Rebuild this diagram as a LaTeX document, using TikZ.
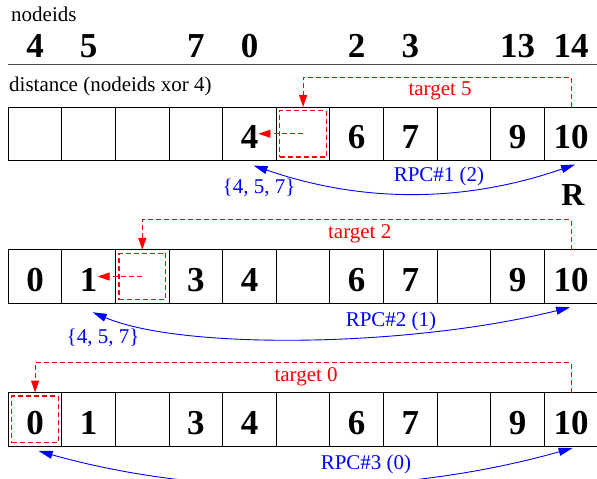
\documentclass[tikz,border=0pt]{standalone}
\usepackage{fontspec}
\setmainfont{Liberation Serif}
\usetikzlibrary{arrows.meta,calc}
\begin{document}
\begin{tikzpicture}[x=1pt,y=-1pt,
  cell/.style={draw=black, line width=1pt, minimum width=53.6pt, minimum height=53.5pt, inner sep=0pt, outer sep=0pt},
  digit/.style={font=\fontsize{35}{40}\selectfont\bfseries, inner sep=0pt, anchor=base},
  small/.style={font=\fontsize{21}{25}\selectfont, inner sep=0pt},
  tgt/.style={draw=red, color=red, dash pattern=on 5pt off 3pt, line width=1pt},
  tbox/.style={rectangle, draw=red, color=red, dash pattern=on 5pt off 3pt, line width=1.2pt, minimum width=46.5pt, minimum height=46.5pt, inner sep=0pt},
  tlabel/.style={small, text=red, anchor=base},
  rpc/.style={draw=blue, color=blue, line width=0.9pt, arrows={Triangle[length=14pt,width=8pt]-Triangle[length=14pt,width=8pt]}},
  rlabel/.style={small, text=blue},
  redtip/.style={arrows={-Triangle[length=12pt,width=8pt]}}
]
\useasboundingbox (0,0) rectangle (597,479);

% header
\node[small, anchor=base west] (nodeids) at (11,21) {nodeids};
\foreach \i/\v in {0/4,1/5,3/7,4/0,6/2,7/3,9/13,10/14}
  \node[digit] (top\i) at ({35.1+53.6*\i},57) {\v};
\draw[black!70, line width=1pt] (8.3,64.3) -- (600,64.3);
\node[small, anchor=base west] (dist) at (9,91) {distance (nodeids xor 4)};

% cells
\foreach \r/\top in {1/107, 2/249.8, 3/392.5} {
  \foreach \i in {0,...,10} {
    \node[cell] (r\r-\i) at ({35.1+53.6*\i},{\top+26.75}) {};
  }
}
% digits
\foreach \r/\list in {1/{4,6,7,9,10},2/{0,1,3,4,6,7,9,10},3/{0,1,3,4,6,7,9,10}} {
  \foreach \i in \list {
    \node[digit] (d\r-\i) at ([yshift=12pt]r\r-\i.south) {\i};
  }
}

% target boxes
\node[tbox] (b1) at (r1-5) {};
\node[tbox] (b2) at (r2-2) {};
\node[tbox] (b3) at (r3-0) {};

% target paths
\draw[tgt, redtip] (r1-10.north) -- ++(0,-30) -| (r1-5.north);
\draw[tgt, redtip] (r2-10.north) -- ++(0,-30) -| (r2-2.north);
\draw[tgt, redtip] (r3-10.north) -- ++(0,-30) -| (r3-0.north);
\node[tlabel] (t1) at ($(r1-5.north)!0.5!(r1-10.north)+(3,-12)$) {target 5};
\node[tlabel] (t2) at ($(r2-2.north)!0.5!(r2-10.north)+(3,-11)$) {target 2};
\node[tlabel] (t3) at ($(r3-0.north)!0.5!(r3-10.north)+(3,-11)$) {target 0};

% in-row arrows
\draw[tgt, redtip] (b1.center) -- (b1.center -| d1-4.east);
\draw[tgt, redtip] (b2.center) -- (b2.center -| d2-1.east);

% RPC arcs
\draw[rpc] ($(r1-10.south)+(4,4)$) .. controls +(-110,38) and +(110,38) .. ($(r1-4.south)+(4,5)$);
\draw[rpc] ($(r2-10.south)+(-1,4)$) .. controls +(-160,40) and +(90,38) .. ($(r2-1.south)+(4,9)$);
\draw[rpc] ($(r3-10.south)+(1.5,2)$) .. controls +(-170,48) and +(170,48) .. ($(r3-0.south)+(3.5,5)$);

\node[rlabel] (rpc1) at (439,176) {RPC\#1 (2)};
\node[rlabel] (set1) at (259,188) {\{4, 5, 7\}};
\node[rlabel] (rpc2) at (391,321) {RPC\#2 (1)};
\node[rlabel] (set2) at (103,338) {\{4, 5, 7\}};
\node[rlabel] (rpc3) at (366,464) {RPC\#3 (0)};

\node[digit, font=\fontsize{32}{36}\selectfont\bfseries] (R) at (573,205) {R};
\end{tikzpicture}
\end{document}
